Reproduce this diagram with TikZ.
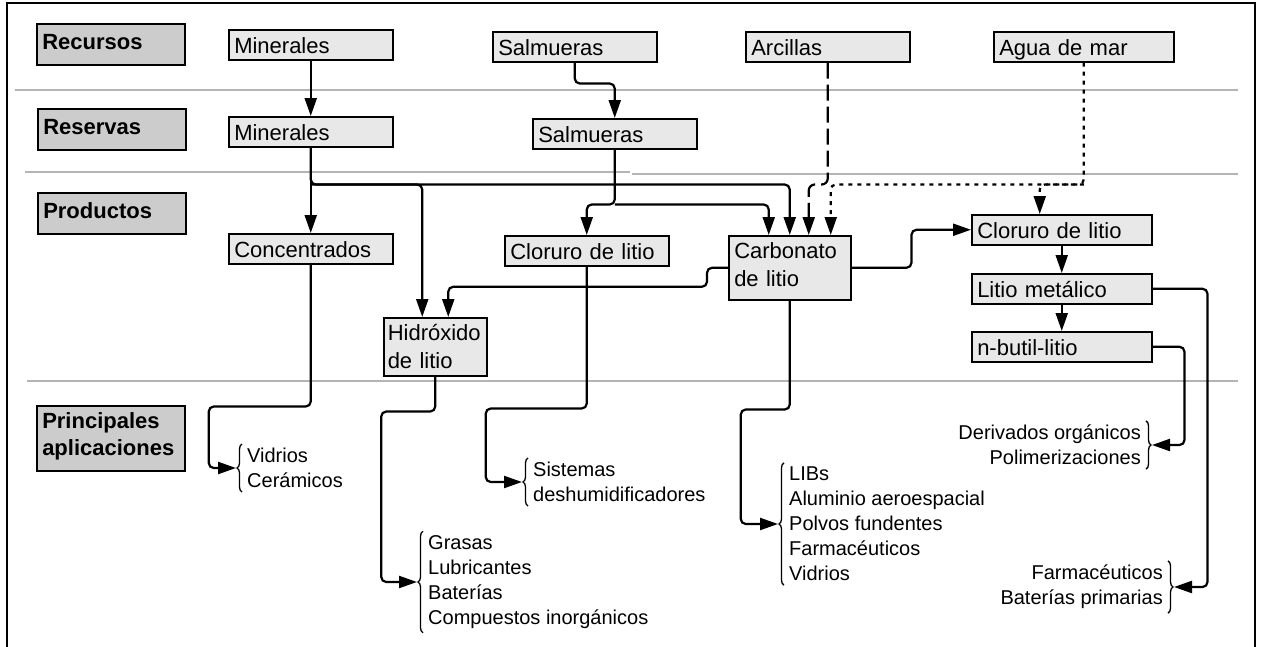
\documentclass[tikz,border=0pt]{standalone}
\usepackage{fontspec}
\setmainfont{Liberation Sans}
\usetikzlibrary{math,calc,arrows.meta,decorations.pathreplacing}

\definecolor{hdrgray}{HTML}{CCCCCC}
\definecolor{boxgray}{HTML}{E8E8E8}
\definecolor{sepgray}{HTML}{B4B4B4}

\begin{document}
\begin{tikzpicture}[x=1pt, y=-1pt,
  hdr/.style={draw, fill=hdrgray, line width=1.5pt, anchor=north west, inner xsep=5.5pt, inner ysep=0pt,
    align=left, text width=137pt, text height=26pt, text depth=15pt,
    font=\fontsize{22}{27}\selectfont\bfseries},
  lbox/.style={draw, fill=boxgray, line width=1.5pt, anchor=north west, inner xsep=5.5pt, inner ysep=0pt,
    align=left, text width=153pt, text height=24pt, text depth=6pt,
    font=\fontsize{22}{28}\selectfont},
  apl/.style={inner xsep=5pt, inner ysep=4pt, font=\fontsize{20}{25}\selectfont},
  conn/.style={line width=2.2pt, rounded corners=5pt, -{Triangle[length=18pt,width=12pt]}},
  brc/.style={decorate, decoration={brace, amplitude=5pt}, line width=1.3pt},
]
  \tikzmath{%
    \ya = 90; \yb = 172; \yc = 381;
    \xl = 7; \xr = 1255;
  }
  \useasboundingbox (0,0) rectangle (1262,646);

  \draw[line width=1.5pt] (\xl,660) |- (\xr,3) -- (\xr,660);
  \draw[sepgray, line width=1.5pt] (15,\ya) -- (1238,\ya);
  \draw[sepgray, line width=1.5pt] (25,\yb) -- (630,\yb);
  \draw[sepgray, line width=1.5pt] (632,\yb+2) -- (1238,\yb+2);
  \draw[sepgray, line width=1.5pt] (27,\yc) -- (1238,\yc);

  \node[hdr] (hRec) at (36,23) {Recursos};
  \node[hdr] (hRes) at (37,108) {Reservas};
  \node[hdr] (hPro) at (37,192) {Productos};
  \node[hdr, text height=23pt, text depth=42pt] (hApl) at (36,405) {Principales\\aplicaciones};

  \node[lbox] (recMin) at (228,29) {Minerales};
  \node[lbox] (recSal) at (492,31) {Salmueras};
  \node[lbox] (recArc) at (745,31) {Arcillas};
  \node[lbox, text width=169pt] (recAgua) at (993,31) {Agua de mar};

  \node[lbox] (resMin) at (228,116) {Minerales};
  \node[lbox] (resSal) at (532,118) {Salmueras};

  \node[lbox] (conc) at (228,233) {Concentrados};
  \node[lbox, text height=23pt, text depth=35pt, inner xsep=4pt, text width=95pt] (hidr) at (383,317) {Hidróxido\\de litio};
  \node[lbox] (clProd) at (504,235) {Cloruro de litio};
  \node[lbox, text height=23pt, text depth=41pt, text width=111pt] (carb) at (728,235) {Carbonato\\de litio};
  \node[lbox, text width=169pt] (clLi) at (971,214) {Cloruro de litio};
  \node[lbox, text width=169pt] (liMet) at (971,273) {Litio metálico};
  \node[lbox, text width=169pt] (nBut) at (971,331) {n-butil-litio};

  \node[apl, anchor=west, align=left] (apVid) at (242,468) {Vidrios\\Cerámicos};
  \node[apl, anchor=west, align=left] (apGra) at (423,582) {Grasas\\Lubricantes\\Baterías\\Compuestos inorgánicos};
  \node[apl, anchor=west, align=left] (apSis) at (528,482) {Sistemas\\deshumidificadores};
  \node[apl, anchor=west, align=left] (apLib) at (784,524) {LIBs\\Aluminio aeroespacial\\Polvos fundentes\\Farmacéuticos\\Vidrios};
  \node[apl, anchor=east, align=right] (apDer) at (1146,445) {Derivados orgánicos\\Polimerizaciones};
  \node[apl, anchor=east, align=right] (apFar) at (1168,587) {Farmacéuticos\\Baterías primarias};

  \draw[brc] (apVid.south west) -- (apVid.north west);
  \draw[brc] (apGra.south west) -- (apGra.north west);
  \draw[brc] (apSis.south west) -- (apSis.north west);
  \draw[brc] (apLib.south west) -- (apLib.north west);
  \draw[brc] (apDer.north east) -- (apDer.south east);
  \draw[brc] (apFar.north east) -- (apFar.south east);

  \draw[conn] (recMin.south) -- (resMin.north);
  \draw[conn] (recSal.south) -- ++(0,21) -| (resSal.north);
  \draw[conn] (resMin.south) -- ++(0,37) -| (carb.north);
  \draw[conn] (resMin.south) -- (conc.north);
  \draw[conn] ($(resMin.south)+(0,37)$) -| ([xshift=-13pt]hidr.north);
  \draw[conn] (resSal.south) -- ++(0,55) -| (clProd.north);
  \draw[conn] ($(resSal.south)+(0,55)$) -| ([xshift=-21pt]carb.north);
  \draw[conn, rounded corners=6pt, dash pattern=on 16pt off 6pt] (recArc.south) -- ++(0,122) -| ([xshift=19pt]carb.north);
  \draw[conn, dash pattern=on 4pt off 5pt] (recAgua.south) -- ++(0,122) -| ([xshift=41pt]carb.north);
  \draw[conn, dash pattern=on 4pt off 5pt] ($(recAgua.south)+(0,122)$) -| ([xshift=-22pt]clLi.north);
  \draw[conn] (carb.west) -- ++(-21,0) -- ++(0,19) -| ([xshift=13pt]hidr.north);
  \draw[conn] (carb.east) -- ++(60,0) |- (clLi.west);
  \draw[conn] (clLi.south) -- (liMet.north);
  \draw[conn] (liMet.south) -- (nBut.north);

  \draw[conn] (conc.south) -- ++(0,142) -- ++(-102,0) |- ([xshift=-6pt]apVid.west);
  \draw[conn] (hidr.south) -- ++(0,35) -- ++(-54,0) |- ([xshift=-6pt]apGra.west);
  \draw[conn] (clProd.south) -- ++(0,142) -- ++(-101,0) |- ([xshift=-6pt]apSis.west);
  \draw[conn] (carb.south) -- ++(0,109) -- ++(-49,0) |- ([xshift=-6pt]apLib.west);
  \draw[conn] (nBut.east) -- ++(32,0) |- ([xshift=6pt]apDer.east);
  \draw[conn] (liMet.east) -- ++(55,0) |- ([xshift=6pt]apFar.east);
\end{tikzpicture}
\end{document}
